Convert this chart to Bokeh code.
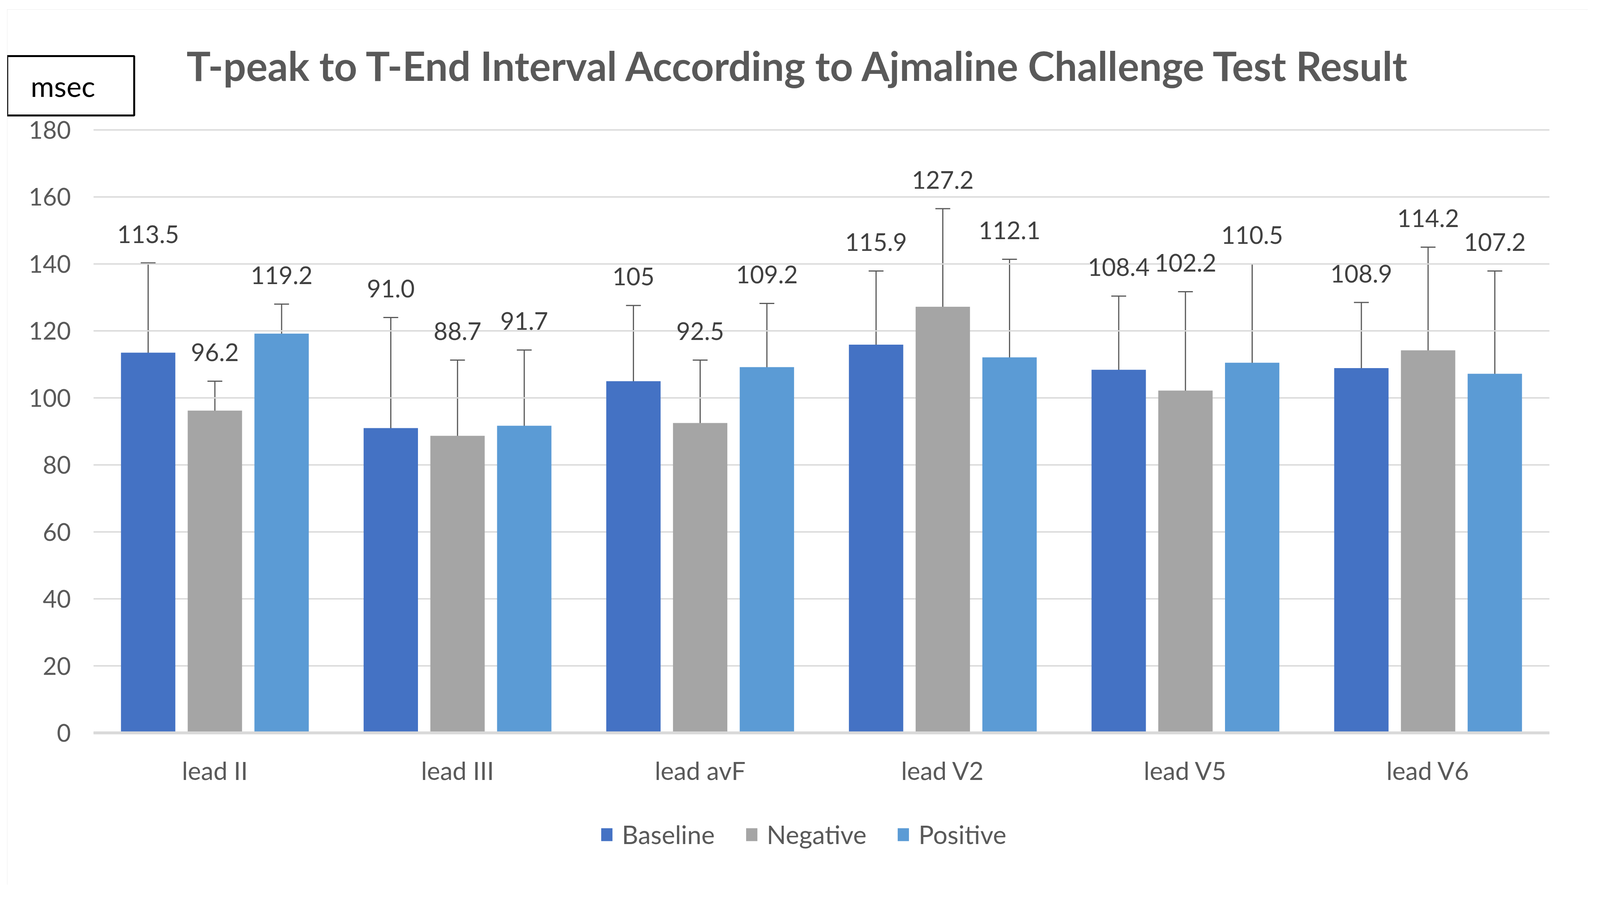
from bokeh.plotting import figure
from bokeh.models import (ColumnDataSource, Range1d, Whisker, TeeHead, FixedTicker,
                          Legend, LegendItem, Label)
from bokeh.embed import file_html
from bokeh.resources import INLINE
from bokeh.core.properties import value

# ---------------- data ----------------
categories = ["lead II", "lead III", "lead avF", "lead V2", "lead V5", "lead V6"]

baseline = [113.5, 91.0, 105.0, 115.9, 108.4, 108.9]
negative = [96.2, 88.7, 92.5, 127.2, 102.2, 114.2]
positive = [119.2, 91.7, 109.2, 112.1, 110.5, 107.2]

baseline_sd = [26.8, 33.0, 22.6, 22.0, 22.0, 19.6]
negative_sd = [8.8, 22.6, 18.8, 29.3, 29.5, 30.8]
positive_sd = [8.8, 22.6, 19.0, 29.3, 29.5, 30.7]

baseline_labels = ["113.5", "91.0", "105", "115.9", "108.4", "108.9"]
negative_labels = ["96.2", "88.7", "92.5", "127.2", "102.2", "114.2"]
positive_labels = ["119.2", "91.7", "109.2", "112.1", "110.5", "107.2"]

series_names = ["Baseline", "Negative", "Positive"]
series_colors = ["#4472C4", "#A5A5A5", "#5B9BD5"]
y_ticks = [0, 20, 40, 60, 80, 100, 120, 140, 160, 180]

title_text = "T-peak to T-End Interval According to Ajmaline Challenge Test Result"
unit_text = "msec"

# ---------------- layout / styling ----------------
FONT = "Lato"
TXT = "#595959"
GRID = "#d9d9d9"
BAR_W = 0.224
OFFS = [-0.275, 0.0, 0.275]
LABEL_GAP = 8.6

W, H = 4047, 2240                     # canvas size
PL, PR, PT, PB = 221, 3948, 308, 1851  # pixel box of the value area (0..180, 6 groups)
n = len(categories)
u = (PR - PL) / n                     # px per category
v = (PB - PT) / 180.0                 # px per msec
x_start = -0.5 - PL / u
x_end = (n - 0.5) + (W - PR) / u
y_end = 180 + PT / v
y_start = -(H - PB) / v

p = figure(
    x_range=Range1d(x_start, x_end), y_range=Range1d(y_start, y_end),
    width=W, height=H,
    output_backend="svg", toolbar_location=None,
    min_border=0, min_border_left=0, min_border_right=0,
    min_border_top=0, min_border_bottom=0,
)
p.margin = (24, 0, 0, 18)
p.styles = {"outline": "4px solid #d9d9d9", "outline-offset": "-4px"}
p.outline_line_color = None
p.background_fill_color = "white"
p.border_fill_color = "white"
p.title.visible = False
p.xgrid.visible = False
p.ygrid.visible = False

# horizontal gridlines limited to the value area
p.segment(x0=[-0.5] * len(y_ticks), x1=[n - 0.5] * len(y_ticks), y0=y_ticks, y1=y_ticks,
          line_color=GRID, line_width=3.5)

# y axis pinned at the left edge of the value area
p.yaxis.fixed_location = -0.5
p.yaxis.bounds = (0, 180)
p.yaxis.ticker = FixedTicker(ticks=y_ticks)
p.yaxis.axis_line_color = None
p.yaxis.major_tick_line_color = None
p.yaxis.minor_tick_line_color = None
p.yaxis.major_tick_out = 0
p.yaxis.major_tick_in = 0
p.yaxis.major_label_standoff = 58
p.yaxis.major_label_text_font = FONT
p.yaxis.major_label_text_font_size = "62px"
p.yaxis.major_label_text_color = TXT

# category axis pinned at 0
p.xaxis.fixed_location = 0
p.xaxis.bounds = (-0.5, n - 0.5)
p.xaxis.ticker = FixedTicker(ticks=list(range(n)))
p.xaxis.major_label_overrides = {i: c for i, c in enumerate(categories)}
p.xaxis.axis_line_color = GRID
p.xaxis.axis_line_width = 7.5
p.xaxis.major_tick_line_color = None
p.xaxis.minor_tick_line_color = None
p.xaxis.major_tick_out = 0
p.xaxis.major_tick_in = 0
p.xaxis.major_label_standoff = 57
p.xaxis.major_label_text_font = FONT
p.xaxis.major_label_text_font_size = "64px"
p.xaxis.major_label_text_color = TXT

all_vals = [baseline, negative, positive]
all_sd = [baseline_sd, negative_sd, positive_sd]
all_labels = [baseline_labels, negative_labels, positive_labels]

bar_renderers = []
for name, color, off, vals, sd, labs in zip(series_names, series_colors, OFFS,
                                            all_vals, all_sd, all_labels):
    src = ColumnDataSource(dict(
        cat=categories,
        xpos=[i + off for i in range(n)],
        top=vals,
        upper=[a + s for a, s in zip(vals, sd)],
        lower=[a - s for a, s in zip(vals, sd)],
        label_y=[a + s + LABEL_GAP for a, s in zip(vals, sd)],
        label=labs,
    ))
    r = p.vbar(x="xpos", top="top", width=BAR_W, source=src,
               fill_color=color, line_color=None)
    bar_renderers.append(r)
    w = Whisker(source=src, base="xpos", upper="upper", lower="lower",
                line_color="#595959", line_width=3,
                upper_head=TeeHead(size=38, line_color="#595959", line_width=3),
                lower_head=TeeHead(size=38, line_color="#595959", line_width=3))
    p.add_layout(w)
    p.text(x="xpos", y="label_y", text="label", source=src,
           text_align="center", text_baseline="alphabetic",
           text_font=value(FONT), text_font_size="62px", text_color="#404040")

# series legend under the category labels
series_legend = Legend(
    items=[LegendItem(label=nm, renderers=[r]) for nm, r in zip(series_names, bar_renderers)],
    orientation="horizontal", location=(1517, 90),
    glyph_width=36, glyph_height=41, label_standoff=21, spacing=76,
    padding=0, margin=0, label_height=76,
    border_line_color=None, background_fill_alpha=0,
    label_text_font=FONT, label_text_font_size="65px", label_text_color=TXT,
)
p.add_layout(series_legend)

# chart title
p.add_layout(Label(x=459, y=H - 142, x_units="screen", y_units="screen",
                   text=title_text, text_align="left", text_baseline="alphabetic",
                   text_font=FONT, text_font_style="bold", text_font_size="103px",
                   text_color=TXT))

# unit box
p.add_layout(Label(x=0, y=H - 195, x_units="screen", y_units="screen",
                   text=unit_text, text_align="left", text_baseline="middle",
                   text_font=FONT, text_font_size="73px", text_color="black",
                   border_line_color="black", border_line_width=5,
                   background_fill_color="white",
                   padding=dict(left=60, right=100, top=32, bottom=32)))

open("out.html", "w").write(file_html(p, INLINE))
